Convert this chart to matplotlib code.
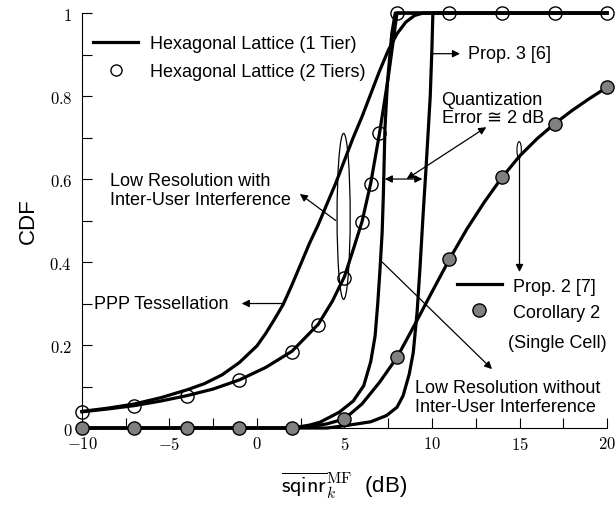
import matplotlib.pyplot as plt
from matplotlib.lines import Line2D
from matplotlib.patches import Ellipse
from matplotlib.ticker import MultipleLocator

plt.rcParams['font.family'] = ['Liberation Sans', 'DejaVu Sans']
plt.rcParams['mathtext.fontset'] = 'cm'

# PPP tessellation, low resolution with inter-user interference
ppp_x = [-10, -8.5, -7, -5.5, -4, -3, -2, -1, 0, 0.5, 1, 1.5, 2, 2.5, 3, 3.5, 4, 4.5, 5,
         5.5, 6, 6.5, 7, 7.5, 8, 8.5, 9, 9.5, 20]
ppp_y = [0.040, 0.048, 0.058, 0.073, 0.092, 0.107, 0.128, 0.158, 0.198, 0.228, 0.262, 0.298,
         0.345, 0.395, 0.445, 0.49, 0.54, 0.59, 0.645, 0.70, 0.75, 0.805, 0.86, 0.91, 0.95,
         0.978, 0.994, 1.0, 1.0]

# hexagonal lattice (1 tier)
hex1_x = [-10, -8.5, -7, -5.5, -4, -2.5, -1, 0.5, 2, 3.5, 4.3, 5, 5.5, 6, 6.5, 7, 7.5, 8, 20]
hex1_y = [0.039, 0.046, 0.054, 0.065, 0.078, 0.094, 0.116, 0.146, 0.185, 0.25, 0.305, 0.365,
          0.43, 0.497, 0.59, 0.71, 0.845, 1.0, 1.0]

# hexagonal lattice (2 tiers), markers
hex2_x = [-10, -7, -4, -1, 2, 3.5, 5, 6, 6.5, 7, 8, 11, 14, 17, 20]
hex2_y = [0.039, 0.054, 0.077, 0.115, 0.184, 0.248, 0.362, 0.497, 0.588, 0.71, 1.0, 1.0, 1.0, 1.0, 1.0]

# low resolution without inter-user interference
lrw_x = [-10, 2, 3, 3.6, 4.7, 5.5, 6.1, 6.5, 6.75, 6.9, 7.03, 7.15, 7.22, 7.31, 7.45, 7.7, 7.9, 20]
lrw_y = [0, 0, 0.007, 0.014, 0.038, 0.065, 0.102, 0.16, 0.222, 0.30, 0.383, 0.47, 0.56, 0.72,
         0.83, 0.95, 1.0, 1.0]

# Prop. 3 [6]
p3_x = [-10, 4, 5.1, 6.5, 7.4, 8.0, 8.35, 8.7, 8.93, 9.15, 9.31, 9.5, 9.65, 9.79, 9.9, 10.0, 10.05, 20]
p3_y = [0, 0, 0.006, 0.015, 0.03, 0.05, 0.078, 0.13, 0.182, 0.28, 0.383, 0.52, 0.62, 0.72, 0.80,
        0.92, 1.0, 1.0]

# Prop. 2 [7]
p2_x = [-10, 2, 3, 4, 5, 6, 7, 8, 9, 10, 11, 12, 13, 14, 15, 16, 17, 18, 19, 20]
p2_y = [0, 0, 0.003, 0.01, 0.022, 0.058, 0.11, 0.17, 0.248, 0.328, 0.407, 0.48, 0.545, 0.604,
        0.655, 0.697, 0.733, 0.765, 0.794, 0.821]

# Corollary 2 (single cell), markers
cor_x = [-10, -7, -4, -1, 2, 5, 8, 11, 14, 17, 20]
cor_y = [0, 0, 0, 0, 0, 0.022, 0.17, 0.407, 0.604, 0.733, 0.821]

xticks = [-10, -5, 0, 5, 10, 15, 20]
xtick_labels = ['$-10$', '$-5$', '$0$', '$5$', '$10$', '$15$', '$20$']
yticks = [0, 0.2, 0.4, 0.6, 0.8, 1]
ytick_labels = ['$0$', '$0.2$', '$0.4$', '$0.6$', '$0.8$', '$1$']

fig = plt.figure(figsize=(6.15, 5.10), dpi=100)
ax = fig.add_axes([0.1333, 0.1588, 0.8537, 0.8137])

lw = 2.3
ax.plot(ppp_x, ppp_y, 'k-', lw=lw, clip_on=False)
h1, = ax.plot(hex1_x, hex1_y, 'k-', lw=lw, clip_on=False)
ax.plot(lrw_x, lrw_y, 'k-', lw=lw, clip_on=False)
ax.plot(p3_x, p3_y, 'k-', lw=lw, clip_on=False)
ax.plot(p2_x, p2_y, 'k-', lw=lw, clip_on=False)
h2, = ax.plot(hex2_x, hex2_y, 'o', ms=9.5, mfc='none', mec='k', mew=1.0,
              clip_on=False, zorder=5)
h3, = ax.plot(cor_x, cor_y, 'o', ms=9.5, mfc='#808080', mec='k', mew=1.0,
              clip_on=False, zorder=5)

ax.set_xlim(-10, 20)
ax.set_ylim(0, 1)
ax.spines['top'].set_visible(False)
ax.spines['right'].set_visible(False)
ax.set_xticks(xticks)
ax.set_xticklabels(xtick_labels, fontsize=12)
ax.set_yticks(yticks)
ax.set_yticklabels(ytick_labels, fontsize=12)
ax.xaxis.set_minor_locator(MultipleLocator(2.5))
ax.yaxis.set_minor_locator(MultipleLocator(0.1))
ax.tick_params(which='both', direction='in', length=7, width=0.8)
ax.tick_params(axis='x', which='major', pad=5)
ax.tick_params(axis='y', which='major', pad=7)

ax.set_ylabel('CDF', fontsize=16)
ax.yaxis.set_label_coords(-0.083, 0.5)
ax.set_xlabel(r'$\overline{\mathsf{sqinr}}_{k}^{\mathrm{MF}}$  (dB)', fontsize=16)
ax.xaxis.set_label_coords(0.5, -0.10)

# legends
leg1 = ax.legend([h1, Line2D([], [], ls='none', marker='o', ms=8, mfc='none', mec='k')],
                 ['Hexagonal Lattice (1 Tier)', 'Hexagonal Lattice (2 Tiers)'],
                 loc='upper left', bbox_to_anchor=(0.021, 0.947), frameon=False,
                 fontsize=13, handlelength=2.5, handletextpad=0.65, labelspacing=0.6,
                 borderpad=0, borderaxespad=0)
ax.add_artist(leg1)
ax.legend([Line2D([], [], color='k', lw=lw), h3], ['Prop. 2 [7]', 'Corollary 2'],
          loc='upper left', bbox_to_anchor=(0.714, 0.362), frameon=False,
          fontsize=13, handlelength=2.5, handletextpad=0.6, labelspacing=0.5,
          borderpad=0, borderaxespad=0)
ax.text(14.34, 0.207, '(Single Cell)', fontsize=13, va='center', ha='left')

# annotations
arrow = dict(arrowstyle='-|>', lw=0.9, color='k', mutation_scale=11, shrinkA=0, shrinkB=0)
darrow = dict(arrowstyle='<|-|>', lw=0.9, color='k', mutation_scale=11, shrinkA=0, shrinkB=0)

ax.text(-8.4, 0.573, 'Low Resolution with\nInter-User Interference', fontsize=13,
        va='center', ha='left', linespacing=1.15)
ax.annotate('', xy=(2.45, 0.564), xytext=(4.5, 0.50), arrowprops=arrow)
ax.add_patch(Ellipse((4.95, 0.51), 0.75, 0.40, fill=False, lw=0.9, color='k'))

ax.text(-9.3, 0.30, 'PPP Tessellation', fontsize=13, va='center', ha='left')
ax.annotate('', xy=(-0.87, 0.30), xytext=(1.45, 0.30), arrowprops=arrow)

ax.annotate('', xy=(11.6, 0.902), xytext=(10.05, 0.902), arrowprops=arrow)
ax.text(12.08, 0.902, 'Prop. 3 [6]', fontsize=13, va='center', ha='left')

ax.text(10.55, 0.77, 'Quantization\nError \u2245 2 dB', fontsize=13, va='center',
        ha='left', linespacing=1.1)
ax.annotate('', xy=(7.3, 0.60), xytext=(9.45, 0.60), arrowprops=darrow)
ax.annotate('', xy=(13.1, 0.725), xytext=(8.55, 0.60), arrowprops=darrow)

ax.annotate('', xy=(15.0, 0.376), xytext=(15.0, 0.655), arrowprops=arrow)
ax.add_patch(Ellipse((14.98, 0.67), 0.25, 0.04, fill=False, lw=0.8, color='k'))

ax.text(9.03, 0.075, 'Low Resolution without\nInter-User Interference', fontsize=13,
        va='center', ha='left', linespacing=1.1)
ax.annotate('', xy=(13.43, 0.142), xytext=(7.15, 0.40), arrowprops=arrow)

fig.savefig('out.png', dpi=100)
